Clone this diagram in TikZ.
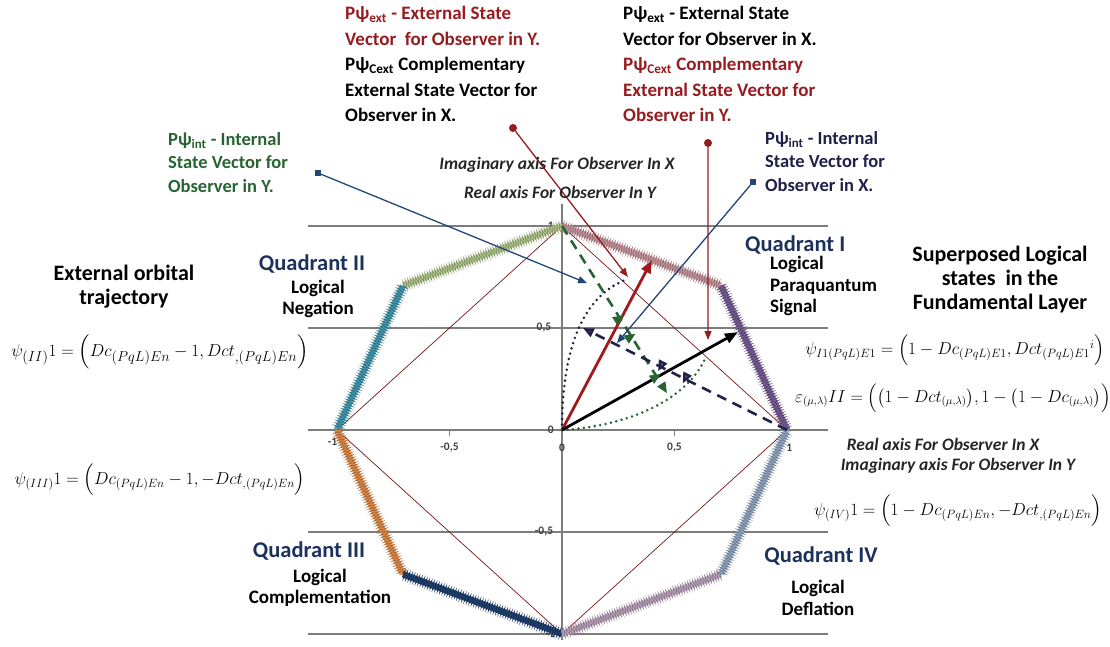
\documentclass[tikz,border=0pt]{standalone}
\usepackage{amsmath,amssymb}
\usepackage{graphicx}
\usepackage{fontspec}
\setmainfont{Carlito}
\usetikzlibrary{arrows.meta,decorations.pathmorphing,decorations.markings}
\definecolor{dred}{RGB}{150,28,32}
\definecolor{qnavy}{RGB}{28,50,92}
\definecolor{inavy}{RGB}{32,32,72}
\definecolor{igreen}{RGB}{40,100,50}
\definecolor{axgray}{RGB}{125,125,125}
\definecolor{qa}{RGB}{214,162,170}
\definecolor{qb}{RGB}{128,100,162}
\definecolor{qc}{RGB}{190,212,150}
\definecolor{qd}{RGB}{75,165,190}
\definecolor{qe}{RGB}{240,150,80}
\definecolor{qf}{RGB}{35,70,120}
\definecolor{qg}{RGB}{200,175,200}
\definecolor{qh}{RGB}{160,182,210}

\begin{document}
\begin{tikzpicture}[x=1pt,y=-1pt,
  blk/.style={inner sep=0pt,align=left,font=\bfseries\fontsize{19}{25.5}\selectfont},
  lbl/.style={inner sep=0pt,align=left,font=\bfseries\fontsize{18.5}{23.5}\selectfont},
  quad/.style={inner sep=0pt,text=qnavy,font=\bfseries\fontsize{22.5}{24}\selectfont},
  sub/.style={inner sep=0pt,align=center,font=\bfseries\fontsize{19}{21.5}\selectfont},
  big/.style={inner sep=0pt,align=center,font=\bfseries\fontsize{22}{24}\selectfont},
  axnote/.style={inner sep=0pt,text=black!85,font=\bfseries\itshape\fontsize{17.5}{19}\selectfont},
  eq/.style={inner sep=0pt,font=\fontsize{#1}{19}\selectfont},
  eq/.default=17,
  tck/.style={inner sep=0pt,text=black!75,font=\bfseries\fontsize{11.5}{12}\selectfont},
  gline/.style={draw=axgray,line width=1.4pt},
  orbit/.style={draw=#1,line width=6.5pt,postaction={draw=#1!70!black,line width=.6pt,decorate,decoration={zigzag,segment length=2.6pt,amplitude=4.6pt}}},
  vec/.style={line width=2.8pt,-{Triangle[length=13pt,width=10pt]}},
  ptr/.style={line width=1.3pt,-{Triangle[length=9pt,width=7pt]}},
  dsh/.style={line width=2.6pt,dash pattern=on 10pt off 7pt},
  dts/.style={line width=2.8pt,line cap=round,dash pattern=on 0pt off 5.5pt},
  bar/.style={postaction={decorate,decoration={markings,
    mark=at position #1 with {\draw[solid,line width=2.2pt] (0,-5pt) -- (0,5pt);}}}}]
\useasboundingbox (0,0) rectangle (1110,647);

\begin{scope}[shift={(562,430)},x=225pt,y=204pt]
\coordinate (O) at (0,0);
\coordinate (T) at (0,1);
\coordinate (NE) at (.707,.707);
\coordinate (E) at (1,0);
\coordinate (SE) at (.707,-.707);
\coordinate (B) at (0,-1);
\coordinate (SW) at (-.707,-.707);
\coordinate (W) at (-1,0);
\coordinate (NW) at (-.707,.707);
\foreach \yy in {1,0.5,0,-0.5,-1}
  \draw[gline] (-1.13,\yy) -- (1.18,\yy);
\draw[gline] (0,1.11) -- (0,-1.03);
\draw[gline,line width=1pt] (.5,0) -- (.5,-.03) (-.5,0) -- (-.5,-.03);
\draw[dred!80!black,line width=.7pt] (E) -- (T) -- (W) -- (B) -- cycle;
\node[tck] (t1) at (-.05,1) {1};
\node[tck] (t05) at (-.08,.5) {0,5};
\node[tck] (t0) at (-.05,0) {0};
\node[tck] (tm05) at (-.08,-.5) {-0,5};
\node[tck] (tm1) at (-.05,-1) {-1};
\node[tck] (x0) at (0,-.085) {0};
\node[tck] (x05) at (.5,-.085) {0,5};
\node[tck] (xm05) at (-.5,-.085) {-0,5};
\node[tck] (x1) at (1.01,-.085) {1};
\node[tck] (xm1) at (-1.02,-.06) {-1};
\draw[orbit=qa] (T) -- (NE);
\draw[orbit=qb] (NE) -- (E);
\draw[orbit=qc] (T) -- (NW);
\draw[orbit=qd] (NW) -- (W);
\draw[orbit=qe] (W) -- (SW);
\draw[orbit=qf] (SW) -- (B);
\draw[orbit=qg] (B) -- (SE);
\draw[orbit=qh] (SE) -- (E);
\coordinate (redtip) at (.40,.833);
\coordinate (blktip) at (.782,.48);
\coordinate (gend) at (.467,.18);
\coordinate (nend) at (.093,.5);
\coordinate (tipA) at (.293,.75);
\coordinate (tipB) at (.649,.441);
\coordinate (tipC) at (.244,.426);
\coordinate (tipD) at (.111,.72);
\draw[dts,inavy] (O) .. controls (0,.42) and (.1,.66) .. (.29,.74);
\draw[dts,igreen] (O) .. controls (.3,.02) and (.56,.15) .. (.64,.36);
\draw[vec,dred!90!red] (O) -- (redtip);
\draw[vec,black] (O) -- (blktip);
\draw[dsh,igreen,bar=.55,bar=.66,bar=.9,-{Triangle[length=11pt,width=9pt]}] (T) -- (gend);
\draw[dsh,inavy,bar=.5,bar=.62,-{Triangle[length=11pt,width=9pt,fill=qb!80!black]}] (E) -- (nend);
\end{scope}

\node[circle,fill=dred,inner sep=0pt,minimum size=8pt] (dotY) at (513,128) {};
\node[circle,fill=dred,inner sep=0pt,minimum size=8pt] (dotX) at (708,143) {};
\node[fill=qf,inner sep=0pt,minimum size=6pt] (sqY) at (318,173) {};
\node[fill=qf,inner sep=0pt,minimum size=6pt] (sqX) at (753,182) {};
\draw[ptr,dred] (dotY) -- (tipA);
\draw[ptr,dred] (dotX) -- (tipB);
\draw[ptr,qf] (sqX) -- (tipC);
\draw[ptr,qf] (sqY) -- (tipD);

\node[blk,anchor=north west] (extY) at (345,6) {\textcolor{dred}{Pψ\textsubscript{ext} - External State}\\
\textcolor{dred}{Vector\ \ for Observer in Y.}\\
Pψ\textsubscript{Cext} Complementary\\
External State Vector for\\
Observer in X.};
\node[blk,anchor=north west] (extX) at (623,6) {Pψ\textsubscript{ext} - External State\\
Vector for Observer in X.\\
\textcolor{dred}{Pψ\textsubscript{Cext} Complementary}\\
\textcolor{dred}{External State Vector for}\\
\textcolor{dred}{Observer in Y.}};
\node[lbl,anchor=north west,text=igreen] (intY) at (168,132) {Pψ\textsubscript{int} - Internal\\State Vector for\\Observer in Y.};
\node[lbl,anchor=north west,text=inavy] (intX) at (765,131) {Pψ\textsubscript{int} - Internal\\State Vector for\\Observer in X.};

\node[axnote] (imX) at (557,165) {Imaginary axis For Observer In X};
\node[axnote] (reY) at (560,192) {Real axis For Observer In Y};
\node[axnote] (reX) at (943,444) {Real axis For Observer In X};
\node[axnote] (imY) at (958,466) {Imaginary axis For Observer In Y};

\node[big] (orb) at (124,287) {External orbital\\trajectory};
\node[big] (sup) at (1000,280) {Superposed Logical\\states\ \ in the\\Fundamental Layer};

\node[quad] (q2) at (312,264) {Quadrant II};
\node[sub] (q2t) at (318,299) {Logical\\Negation};
\node[quad,anchor=west] (q1) at (745,245) {Quadrant I};
\node[sub,align=left,anchor=north west] (q1t) at (770,256) {Logical\\Paraquantum\\Signal};
\node[quad] (q3) at (309,551) {Quadrant III};
\node[sub] (q3t) at (320,588) {Logical\\Complementation};
\node[quad] (q4) at (821,556) {Quadrant IV};
\node[sub] (q4t) at (818,598) {Logical\\Deflation};

\node[eq=19] (psiII) at (160,352) {$\psi_{(II)}1=\Bigl(Dc_{(PqL)En}-1,Dct_{,(PqL)En}\Bigr)$};
\node[eq=17.5] (psiIII) at (160,480) {$\psi_{(III)}1=\Bigl(Dc_{(PqL)En}-1,-Dct_{,(PqL)En}\Bigr)$};
\node[eq=17] (psiI) at (955,350) {$\psi_{I1(PqL)E1}=\Bigl(1-Dc_{(PqL)E1},Dct_{(PqL)E1}{}^{i}\Bigr)$};
\node[eq=16] (eps) at (953,398) {$\varepsilon_{(\mu,\lambda)}II=\Bigl(\bigl(1-Dct_{(\mu,\lambda)}\bigr),1-\bigl(1-Dc_{(\mu,\lambda)}\bigr)\Bigr)$};
\node[eq=17.5] (psiIV) at (958,511) {$\psi_{(IV)}1=\Bigl(1-Dc_{(PqL)En},-Dct_{,(PqL)En}\Bigr)$};
\end{tikzpicture}
\end{document}
